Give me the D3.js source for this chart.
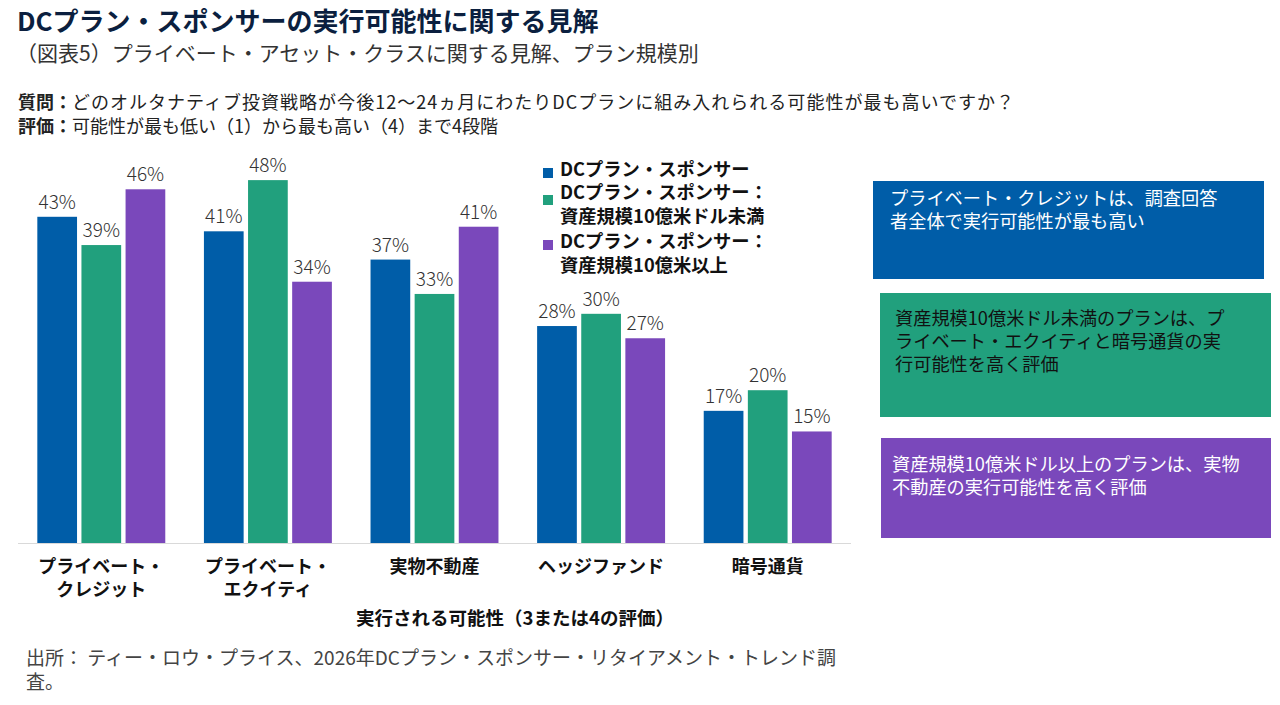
<!DOCTYPE html>
<html>
<head>
  <meta charset="utf-8">
  <title>DCプラン・スポンサーの実行可能性に関する見解</title>
  <script src="https://d3js.org/d3.v7.min.js"></script>
  <style>
    body { margin: 0; background: #fff; }
    svg { font-family: "Noto Sans CJK JP", "Noto Sans", sans-serif; }
  </style>
</head>
<body>
<script>
// Data (bar heights estimated, labels rounded)
var categories = [['プライベート・', 'クレジット'], ['プライベート・', 'エクイティ'], ['実物不動産'], ['ヘッジファンド'], ['暗号通貨']];
var seriesNames = ['DCプラン・スポンサー', 'DCプラン・スポンサー：資産規模10億米ドル未満', 'DCプラン・スポンサー：資産規模10億米以上'];
var legendLines = [['DCプラン・スポンサー'], ['DCプラン・スポンサー：', '資産規模10億米ドル未満'], ['DCプラン・スポンサー：', '資産規模10億米以上']];
var allSponsors = [42.7, 40.8, 37.1, 28.4, 17.3];
var under1b = [39.0, 47.5, 32.6, 30.0, 20.0];
var over1b = [46.3, 34.2, 41.4, 26.8, 14.6];
var colors = ['#005DA8', '#21A07D', '#7A48BB'];

var notes = [
  ['プライベート・クレジットは、調査回答', '者全体で実行可能性が最も高い'],
  ['資産規模10億米ドル未満のプランは、プ', 'ライベート・エクイティと暗号通貨の実', '行可能性を高く評価'],
  ['資産規模10億米ドル以上のプランは、実物', '不動産の実行可能性を高く評価']
];

var width = 1280,
    height = 705;

var svg = d3.select('body')
  .append('svg')
  .attr('width', width)
  .attr('height', height);

// Titles
svg.append('text')
  .attr('x', 17).attr('y', 31)
  .attr('font-size', 26)
  .attr('font-weight', 700)
  .attr('fill', '#0B1F3F')
  .text('DCプラン・スポンサーの実行可能性に関する見解');

svg.append('text')
  .attr('x', 16).attr('y', 61)
  .attr('font-size', 21)
  .attr('fill', '#333')
  .text('（図表5）プライベート・アセット・クラスに関する見解、プラン規模別');

var q1 = svg.append('text').attr('x', 18).attr('y', 109).attr('font-size', 18).attr('fill', '#222');
q1.append('tspan').attr('font-weight', 700).text('質問：');
q1.append('tspan').attr('textLength', 942).text('どのオルタナティブ投資戦略が今後12～24ヵ月にわたりDCプランに組み入れられる可能性が最も高いですか？');

var q2 = svg.append('text').attr('x', 18).attr('y', 133).attr('font-size', 18).attr('fill', '#222');
q2.append('tspan').attr('font-weight', 700).text('評価：');
q2.append('tspan').text('可能性が最も低い（1）から最も高い（4）まで4段階');

// Scales
var x0 = d3.scaleBand()
  .domain(d3.range(categories.length))
  .range([18, 851])
  .paddingInner(0.232)
  .paddingOuter(0.116);

var x1 = d3.scaleBand()
  .domain(d3.range(3))
  .range([0, x0.bandwidth()])
  .paddingInner(0.1);

var y = d3.scaleLinear()
  .domain([0, 48])
  .range([543, 176.3]);

var rows = categories.map(function(c, i) {
  return [allSponsors[i], under1b[i], over1b[i]];
});

var groups = svg.append('g')
  .selectAll('g')
  .data(rows)
  .enter()
  .append('g')
  .attr('transform', function(d, i) { return 'translate(' + x0(i) + ',0)'; });

groups.selectAll('rect')
  .data(function(d) { return d; })
  .enter()
  .append('rect')
  .attr('x', function(d, j) { return x1(j); })
  .attr('y', function(d) { return y(d); })
  .attr('width', x1.bandwidth())
  .attr('height', function(d) { return y(0) - y(d); })
  .attr('fill', function(d, j) { return colors[j]; });

groups.selectAll('text.val')
  .data(function(d) { return d; })
  .enter()
  .append('text')
  .attr('class', 'val')
  .attr('x', function(d, j) { return x1(j) + x1.bandwidth() / 2; })
  .attr('y', function(d) { return y(d) - 8; })
  .attr('text-anchor', 'middle')
  .attr('font-size', 19)
  .attr('font-weight', 300)
  .attr('fill', '#333')
  .text(function(d) { return Math.round(d) + '%'; });

// Axis line
svg.append('line')
  .attr('x1', 18).attr('x2', 851)
  .attr('y1', y(0) + 0.5).attr('y2', y(0) + 0.5)
  .attr('stroke', '#d9d9d9');

// Category labels
var catText = svg.append('g')
  .selectAll('text')
  .data(categories)
  .enter()
  .append('text')
  .attr('x', function(d, i) { return x0(i) + x0.bandwidth() / 2; })
  .attr('y', 573)
  .attr('text-anchor', 'middle')
  .attr('font-size', 18)
  .attr('font-weight', 700)
  .attr('fill', '#111');

catText.selectAll('tspan')
  .data(function(d) { return d; })
  .enter()
  .append('tspan')
  .attr('x', function() { return d3.select(this.parentNode).attr('x'); })
  .attr('dy', function(d, k) { return k === 0 ? 0 : 23; })
  .text(function(d) { return d; });

svg.append('text')
  .attr('x', 515).attr('y', 625)
  .attr('text-anchor', 'middle')
  .attr('font-size', 18.5)
  .attr('font-weight', 700)
  .attr('fill', '#111')
  .text('実行される可能性（3または4の評価）');

// Legend
var legendY = [176, 199, 248];
var legend = svg.append('g')
  .selectAll('g')
  .data(legendLines)
  .enter()
  .append('g');

legend.append('rect')
  .attr('x', 543)
  .attr('y', function(d, i) { return legendY[i] - 8 + (i === 1 ? 4 : 0); })
  .attr('width', 10).attr('height', 10)
  .attr('fill', function(d, i) { return colors[i]; });

legend.append('text')
  .attr('x', 560)
  .attr('y', function(d, i) { return legendY[i]; })
  .attr('font-size', 18.3)
  .attr('font-weight', 700)
  .attr('fill', '#111')
  .selectAll('tspan')
  .data(function(d) { return d; })
  .enter()
  .append('tspan')
  .attr('x', 560)
  .attr('dy', function(d, k) { return k === 0 ? 0 : 24; })
  .text(function(d) { return d; });

// Note boxes
var boxes = [
  { x: 873, y: 181, w: 391, h: 98, fill: '#005DA8', text: '#fff', tx: 890, ty: 205 },
  { x: 880, y: 293, w: 391, h: 124, fill: '#21A07D', text: '#111', tx: 895, ty: 325 },
  { x: 881, y: 438, w: 390, h: 100, fill: '#7A48BB', text: '#fff', tx: 892, ty: 471 }
];

var box = svg.append('g')
  .selectAll('g')
  .data(boxes)
  .enter()
  .append('g');

box.append('rect')
  .attr('x', function(d) { return d.x; })
  .attr('y', function(d) { return d.y; })
  .attr('width', function(d) { return d.w; })
  .attr('height', function(d) { return d.h; })
  .attr('fill', function(d) { return d.fill; });

box.append('text')
  .attr('x', function(d) { return d.tx; })
  .attr('y', function(d) { return d.ty; })
  .attr('font-size', 18.2)
  .attr('fill', function(d) { return d.text; })
  .selectAll('tspan')
  .data(function(d, i) { return notes[i].map(function(t) { return { t: t, x: d.tx }; }); })
  .enter()
  .append('tspan')
  .attr('x', function(d) { return d.x; })
  .attr('dy', function(d, k) { return k === 0 ? 0 : 23; })
  .text(function(d) { return d.t; });

// Source
svg.append('text')
  .attr('x', 26).attr('y', 665)
  .attr('font-size', 19)
  .attr('fill', '#444')
  .selectAll('tspan')
  .data(['出所： ティー・ロウ・プライス、2026年DCプラン・スポンサー・リタイアメント・トレンド調', '査。'])
  .enter()
  .append('tspan')
  .attr('x', 26)
  .attr('dy', function(d, k) { return k === 0 ? 0 : 24; })
  .text(function(d) { return d; });
</script>
</body>
</html>
